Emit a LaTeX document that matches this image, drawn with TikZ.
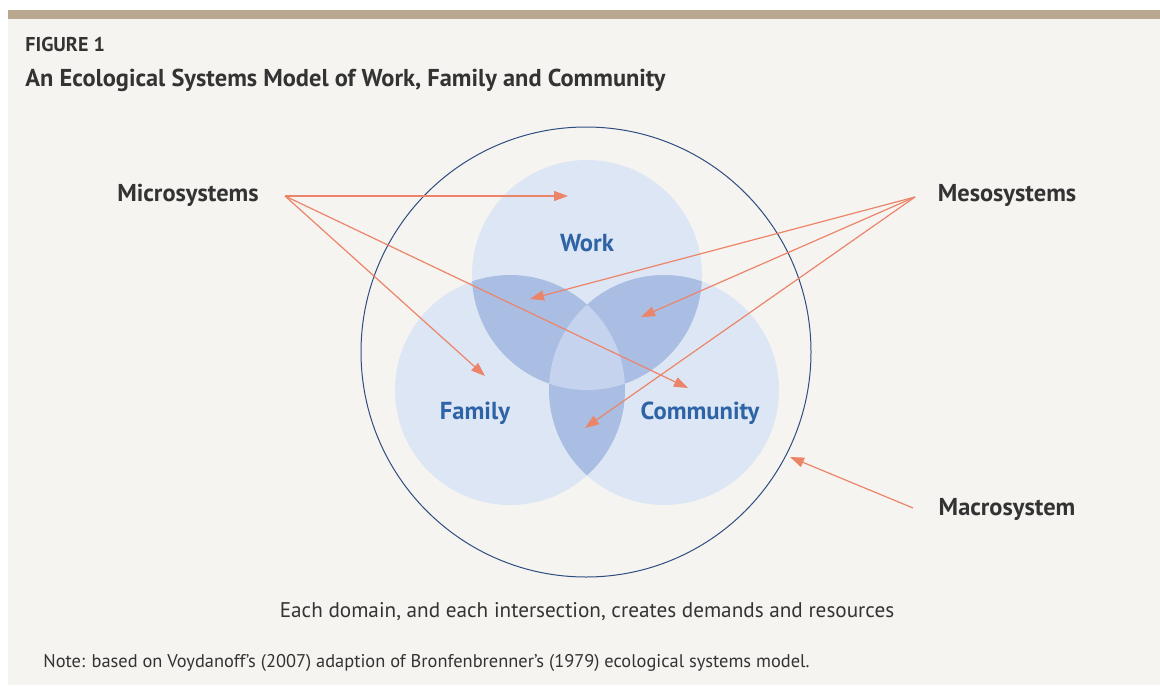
\documentclass[tikz,border=0pt]{standalone}
\usepackage{fontspec}
\setmainfont{PT Sans}
\usetikzlibrary{positioning}
\usetikzlibrary{arrows.meta}

\definecolor{paper}{HTML}{F6F4F0}
\definecolor{barbrown}{HTML}{B9A88F}
\definecolor{domfill}{HTML}{DDE6F5}
\definecolor{pairfill}{HTML}{AABEE3}
\definecolor{tripfill}{HTML}{C6D3EE}
\definecolor{ringblue}{HTML}{2F4D80}
\definecolor{domtext}{HTML}{2E64A6}
\definecolor{arrowred}{HTML}{EC8469}
\definecolor{labeltext}{HTML}{333333}

\begin{document}
\begin{tikzpicture}[x=0.5pt,y=-0.5pt,
	sysnode/.style={font=\fontsize{12.2}{14}\selectfont\bfseries, text=labeltext, inner sep=0pt},
	domnode/.style={font=\fontsize{12.3}{14}\selectfont\bfseries, text=domtext, inner sep=0pt},
	ptr/.style={draw=arrowred, line width=0.6pt, -{Triangle[length=7pt,width=5pt]}}]
	\useasboundingbox (0,0) rectangle (1160,685);
	\fill[white] (0,0) rectangle (1160,685);
	\fill[paper] (8,19) rectangle (1160,685);
	\fill[barbrown] (8,10) rectangle (1160,19);

	% headings
	\node[font=\fontsize{10}{12}\selectfont\bfseries, text=labeltext, anchor=west, inner sep=0pt] (fig) at (25,44) {FIGURE 1};
	\node[font=\fontsize{12.2}{14}\selectfont\bfseries, text=labeltext, anchor=west, inner sep=0pt] (title) at (25,80) {An Ecological Systems Model of Work, Family and Community};

	% domains
	\coordinate (workc) at (587,275);
	\coordinate (famc) at (510,390);
	\coordinate (commc) at (664,390);
	\fill[domfill] (workc) circle [radius=115];
	\fill[domfill] (famc) circle [radius=115];
	\fill[domfill] (commc) circle [radius=115];
	\begin{scope}
		\clip (workc) circle [radius=115];
		\fill[pairfill] (famc) circle [radius=115];
		\fill[pairfill] (commc) circle [radius=115];
	\end{scope}
	\begin{scope}
		\clip (famc) circle [radius=115];
		\fill[pairfill] (commc) circle [radius=115];
	\end{scope}
	\begin{scope}
		\clip (workc) circle [radius=115];
		\clip (famc) circle [radius=115];
		\fill[tripfill] (commc) circle [radius=115];
	\end{scope}
	\draw[ringblue, line width=0.5pt] (586,352) circle [radius=225];

	\node[domnode] (work) at (587,243) {Work};
	\node[domnode] (family) at (475,413) {Family};
	\node[domnode] (community) at (700,413) {Community};

	% system labels
	\node[sysnode] (micro) at (188,195) {Microsystems};
	\node[sysnode] (meso) at (1007,195) {Mesosystems};
	\node[sysnode] (macro) at (1007,509) {Macrosystem};

	\coordinate (microsrc) at (285,196);
	\coordinate (mesosrc) at (915,197);
	\coordinate (macrosrc) at (913,508);
	\coordinate (worktip) at (568,196);
	\coordinate (famtip) at (485,376);
	\coordinate (commtip) at (688,388);
	\coordinate (wftip) at (530,299);
	\coordinate (wctip) at (641,317);
	\coordinate (fctip) at (585,428);
	\coordinate (ringtip) at (790,457);

	\draw[ptr] (microsrc) -- (worktip);
	\draw[ptr] (microsrc) -- (famtip);
	\draw[ptr] (microsrc) -- (commtip);
	\draw[ptr] (mesosrc) -- (wftip);
	\draw[ptr] (mesosrc) -- (wctip);
	\draw[ptr] (mesosrc) -- (fctip);
	\draw[ptr] (macrosrc) -- (ringtip);

	% captions
	\node[font=\fontsize{10.6}{12}\selectfont, text=labeltext, inner sep=0pt] (caption) at (587,612) {Each domain, and each intersection, creates demands and resources};
	\node[font=\fontsize{9.2}{11}\selectfont, text=labeltext, anchor=west, inner sep=0pt] (note) at (43,663) {Note: based on Voydanoff’s (2007) adaption of Bronfenbrenner’s (1979) ecological systems model.};
\end{tikzpicture}
\end{document}
